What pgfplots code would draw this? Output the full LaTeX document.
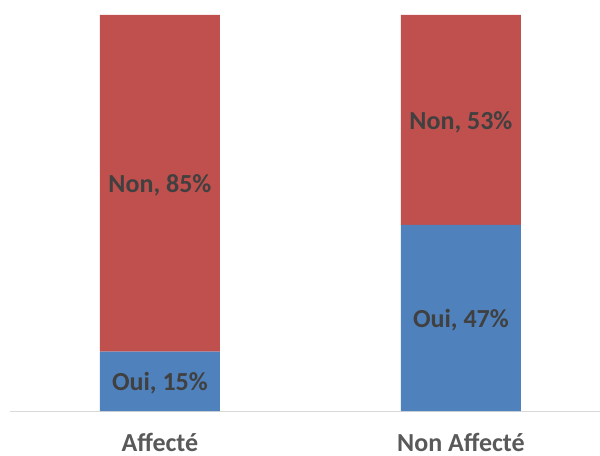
\documentclass[border=0pt]{standalone}
\usepackage{pgfplots}
\pgfplotsset{compat=1.18}
\usepackage{fontspec}
\setmainfont{Carlito}
\definecolor{cblue}{HTML}{4F81BD}
\definecolor{cred}{HTML}{C0504D}
\definecolor{ctext}{HTML}{404040}
\definecolor{ctick}{HTML}{595959}
\definecolor{caxis}{HTML}{D9D9D9}
\begin{document}
\begin{tikzpicture}
\path[use as bounding box] (0,0) rectangle (600bp,456bp);
\begin{axis}[
  at={(10bp,45bp)}, anchor=south west,
  scale only axis,
  width=590bp, height=396bp,
  ybar stacked, bar width=120bp,
  xmin=-0.498, xmax=1.462, ymin=0, ymax=100,
  axis x line*=bottom, axis y line=none,
  x axis line style={draw=caxis, line width=1bp, -},
  xtick={0,1}, xticklabels={Affecté, Non Affecté},
  major tick length=0pt,
  xticklabel style={anchor=base, inner sep=0pt, yshift=-40bp, font=\fontsize{26bp}{30bp}\selectfont\bfseries, text=ctick},
  point meta=explicit symbolic,
  nodes near coords,
  every node near coord/.append style={anchor=center, yshift=-2bp, font=\fontsize{26bp}{30bp}\selectfont\bfseries, text=ctext},
  clip=false,
]
\addplot[fill=cblue, draw=none] table[x=x, y=y, meta=lab] {
x y lab
0 15 {Oui, 15\%}
1 47 {Oui, 47\%}
};
\addplot[fill=cred, draw=none] table[x=x, y=y, meta=lab] {
x y lab
0 85 {Non, 85\%}
1 53 {Non, 53\%}
};
\end{axis}
\end{tikzpicture}
\end{document}
